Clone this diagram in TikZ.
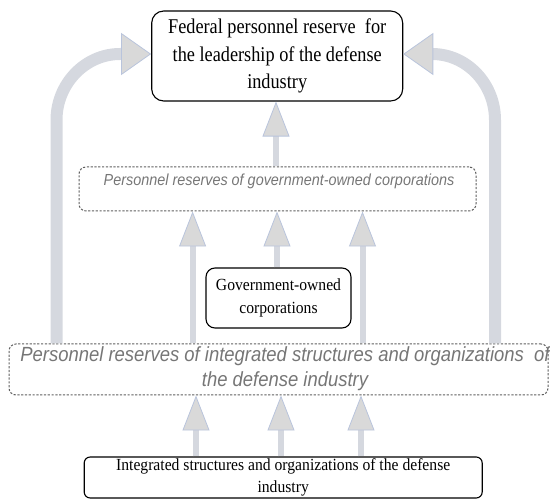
\documentclass[tikz,border=0pt]{standalone}
\usepackage{fontspec}
\setmainfont{Liberation Serif}
\newfontfamily\topserif[FakeStretch=0.87]{Liberation Serif}
\newfontfamily\boxserif[FakeStretch=0.92]{Liberation Serif}
\newfontfamily\resfont[FakeStretch=0.9]{Liberation Sans}
\usetikzlibrary{arrows.meta}
\definecolor{arrowfill}{HTML}{D9D9D9}
\definecolor{arrowedge}{HTML}{B9C4DC}
\definecolor{stemcol}{HTML}{D5D8DF}
\definecolor{resgray}{HTML}{767676}
\definecolor{dashgray}{HTML}{5F5F5F}
\tikzset{
  solidbox/.style={draw=black, line width=1.1pt, fill=white, align=center, inner sep=0pt},
  dashbox/.style={draw=dashgray, line width=1pt, dash pattern=on 2.2pt off 1.6pt, rounded corners=7pt, inner sep=0pt},
  restext/.style={text=resgray, font=\resfont\itshape, inner sep=0pt, anchor=base},
  smallarr/.style={line width=6pt, draw=stemcol,
    -{Triangle[width=27pt,length=35pt,line width=0.8pt,color=arrowedge,fill=arrowfill]}},
  bigarr/.style={line width=12pt, draw=stemcol,
    -{Triangle[width=42pt,length=30pt,line width=0.8pt,color=arrowedge,fill=arrowfill]}},
}
\begin{document}
\begin{tikzpicture}[x=1pt,y=-1pt]
\useasboundingbox (0,0) rectangle (550,500);

% boxes
\node[solidbox, rounded corners=12pt, minimum width=251pt, minimum height=90pt,
      font=\topserif\fontsize{21}{27.5}\selectfont] (top) at (277.2,56)
  {Federal personnel reserve\ \ for\\the leadership of the defense\\industry};

\node[dashbox, minimum width=397pt, minimum height=44pt] (midres) at (277.5,189) {};
\node[restext, font=\resfont\itshape\fontsize{16}{19}\selectfont] (midtext) at (279,186)
  {Personnel reserves of government-owned corporations};

\node[solidbox, rounded corners=9pt, minimum width=145pt, minimum height=60pt,
      font=\boxserif\fontsize{17}{23.5}\selectfont] (gov) at (278.5,298)
  {Government-owned\\corporations};

\node[dashbox, minimum width=539pt, minimum height=51pt] (lowres) at (278.5,369.5) {};
\node[restext, font=\resfont\itshape\fontsize{20.5}{25}\selectfont] (lowtext1) at (285,362)
  {Personnel reserves of integrated structures and organizations\ \ of};
\node[restext, font=\resfont\itshape\fontsize{20.5}{25}\selectfont] (lowtext2) at (285,387)
  {the defense industry};

\node[solidbox, rounded corners=6pt, minimum width=398pt, minimum height=41pt,
      font=\boxserif\fontsize{17}{21.5}\selectfont] (bot) at (283.2,477.5)
  {Integrated structures and organizations of the defense\\industry};

% x positions of connectors
\coordinate (xtop) at (276,0);
\coordinate (xm1) at (192.6,0);
\coordinate (xm2) at (277,0);
\coordinate (xm3) at (362.5,0);
\coordinate (xl1) at (196,0);
\coordinate (xl2) at (281,0);
\coordinate (xl3) at (361,0);
\coordinate (xbl) at (56.5,0);
\coordinate (xbr) at (495,0);
\coordinate (yhead) at (0,54);

% straight arrows
\draw[smallarr] (midres.north -| xtop) -- (top.south -| xtop);
\draw[smallarr] (lowres.north -| xm1) -- (midres.south -| xm1);
\draw[smallarr] (gov.north -| xm2) -- (midres.south -| xm2);
\draw[smallarr] (lowres.north -| xm3) -- (midres.south -| xm3);
\draw[smallarr] (bot.north -| xl1) -- (lowres.south -| xl1);
\draw[smallarr] (bot.north -| xl2) -- (lowres.south -| xl2);
\draw[smallarr] (bot.north -| xl3) -- (lowres.south -| xl3);

% big curved arrows
\draw[bigarr] (lowres.north -| xbl) -- (56.5,120)
  .. controls (56.5,84) and (85,54) .. (120,54) -- (top.west |- yhead);
\draw[bigarr] (lowres.north -| xbr) -- (495,120)
  .. controls (495,84) and (467,54) .. (432,54) -- (top.east |- yhead);
\end{tikzpicture}
\end{document}
